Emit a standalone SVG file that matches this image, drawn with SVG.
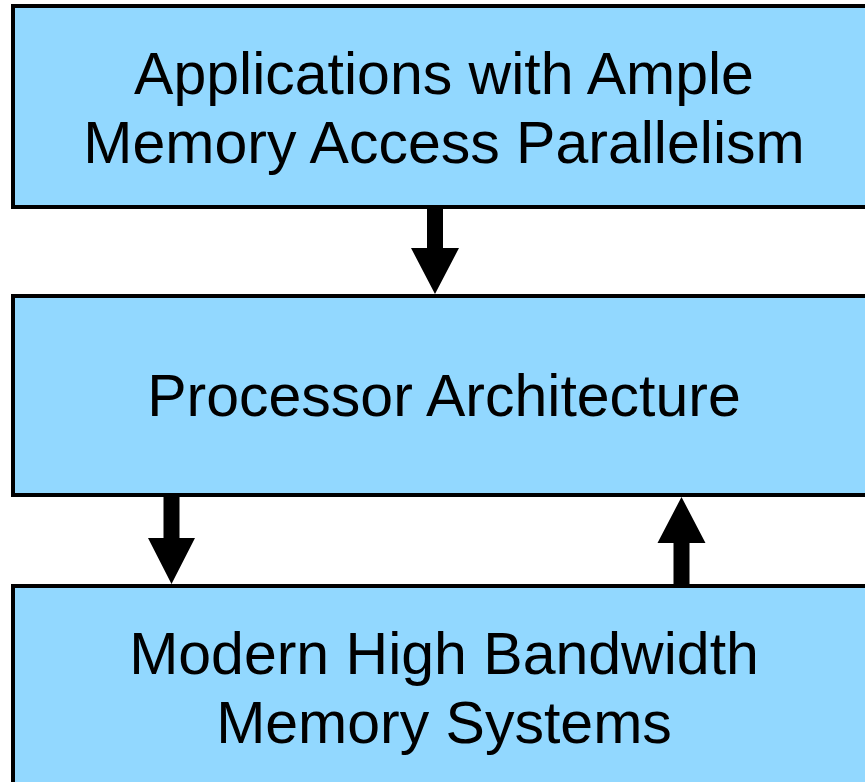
<svg xmlns="http://www.w3.org/2000/svg" width="865" height="782" viewBox="0 0 865 782">
<style>
.box{fill:#92D8FF;stroke:#000;stroke-width:4}
.t{font-family:"Liberation Sans",Arial,sans-serif;font-size:59px;fill:#000;text-anchor:middle}
.arr{fill:#000;stroke:none}
</style>
<rect width="865" height="782" fill="#fff"/>
<g id="node-apps">
<rect class="box" x="13" y="6" width="862" height="201"/>
<text class="t" x="444" y="94">Applications with Ample</text>
<text class="t" x="444" y="163">Memory Access Parallelism</text>
</g>
<g id="node-proc">
<rect class="box" x="13" y="296" width="862" height="199"/>
<text class="t" x="444" y="416">Processor Architecture</text>
</g>
<g id="node-mem">
<rect class="box" x="13" y="586" width="862" height="210"/>
<text class="t" x="444" y="674">Modern High Bandwidth</text>
<text class="t" x="444" y="743">Memory Systems</text>
</g>
<g id="connectors">
<polygon class="arr" points="427,209 443,209 443,248 459,248 435,294 411,248 427,248"/>
<polygon class="arr" points="163.5,497 179.5,497 179.5,538 195,538 171.5,584 148,538 163.5,538"/>
<polygon class="arr" points="673.5,584 689.5,584 689.5,543 705.5,543 681.5,497 657.5,543 673.5,543"/>
</g>
</svg>
